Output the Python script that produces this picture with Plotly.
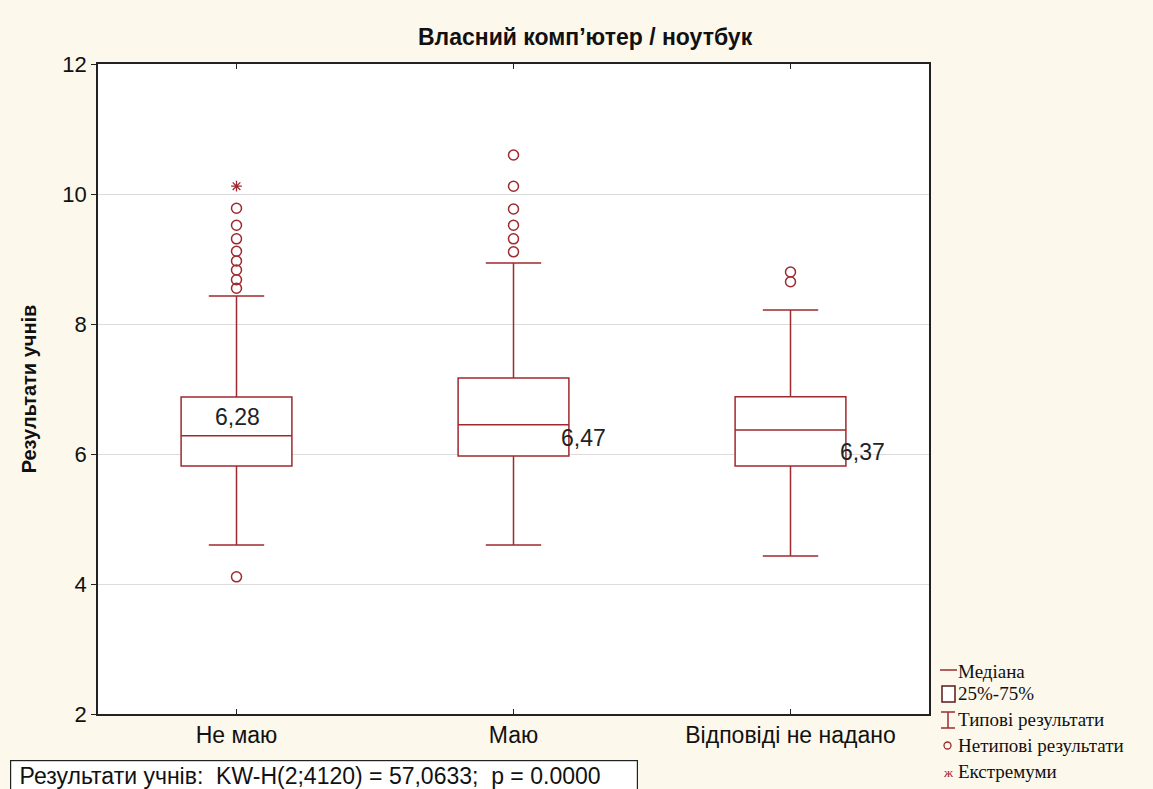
import plotly.graph_objects as go

categories = ["Не маю", "Маю", "Відповіді не надано"]
q1 = [5.815, 5.97, 5.815]
medians = [6.28, 6.45, 6.37]
q3 = [6.877, 7.17, 6.88]
lower_whisker = [4.6, 4.6, 4.43]
upper_whisker = [8.43, 8.94, 8.215]
median_labels = ["6,28", "6,47", "6,37"]

outliers = {
    "Не маю": [4.11, 9.78, 9.52, 9.31, 9.12, 8.97, 8.83, 8.68, 8.55],
    "Маю": [10.6, 10.12, 9.77, 9.52, 9.31, 9.11],
    "Відповіді не надано": [8.8, 8.65],
}
extremes = {"Не маю": [10.12]}

legend_labels = ["Медіана", "25%-75%", "Типові результати", "Нетипові результати", "Екстремуми"]
title_text = "Власний комп’ютер / ноутбук"
y_title = "Результати учнів"
stat_text = "&nbsp;Результати учнів:&nbsp; KW-H(2;4120) = 57,0633;&nbsp; p = 0.0000"

RED = "#9e2a2f"
BG = "#fdf8ec"
W, H = 1153, 789
L, R, T, B = 98, 929, 64, 714
SANS = "Liberation Sans, Arial"


def px(x):
    return (x - L) / (R - L)


def py(y):
    return (B - y) / (B - T)


fig = go.Figure()

for i, c in enumerate(categories):
    fig.add_trace(go.Box(
        x=[c], q1=[q1[i]], median=[medians[i]], q3=[q3[i]],
        lowerfence=[lower_whisker[i]], upperfence=[upper_whisker[i]],
        width=0.4, whiskerwidth=0.5,
        fillcolor="white", line=dict(color=RED, width=1.5),
        boxpoints=False, showlegend=False, hoverinfo="skip",
    ))
    pts = outliers.get(c, [])
    if pts:
        fig.add_trace(go.Scatter(
            x=[c] * len(pts), y=pts, mode="markers",
            marker=dict(symbol="circle-open", size=10, color=RED, line=dict(width=1.5, color=RED)),
            showlegend=False, hoverinfo="skip",
        ))
    ex = extremes.get(c, [])
    if ex:
        fig.add_trace(go.Scatter(
            x=[c] * len(ex), y=ex, mode="markers",
            marker=dict(symbol="asterisk-open", size=9, color=RED, line=dict(width=1.3, color=RED)),
            showlegend=False, hoverinfo="skip",
        ))

label_shift = [(1, 19), (70, -13), (72, -22)]
for i, c in enumerate(categories):
    fig.add_annotation(
        x=c, y=medians[i], text=median_labels[i], showarrow=False,
        xshift=label_shift[i][0], yshift=label_shift[i][1],
        font=dict(family=SANS, size=23, color="#222"),
    )

# title
fig.add_annotation(
    xref="paper", yref="paper", x=px(585), y=py(37), text="<b>" + title_text + "</b>",
    showarrow=False, font=dict(family=SANS, size=23, color="#111"),
    xanchor="center", yanchor="middle",
)

# stat box
fig.add_annotation(
    xref="paper", yref="paper", x=px(10), y=py(760), text=stat_text,
    showarrow=False, xanchor="left", yanchor="top",
    font=dict(family=SANS, size=23, color="#111"),
    bordercolor="#222", borderwidth=1.2, borderpad=2, bgcolor="white",
    width=622, align="left",
)

# legend (drawn manually)
LF = dict(family="Liberation Serif, Times New Roman", size=19, color="#111")
leg_y = [671, 693, 719, 745, 771]
for lbl, yy in zip(legend_labels, leg_y):
    fig.add_annotation(xref="paper", yref="paper", x=px(956), y=py(yy), text=lbl,
                       showarrow=False, xanchor="left", yanchor="middle", font=LF)
shapes = []
shapes.append(dict(type="line", xref="paper", yref="paper", x0=px(940), x1=px(957), y0=py(670), y1=py(670),
                   line=dict(color=RED, width=1.5)))
shapes.append(dict(type="rect", xref="paper", yref="paper", x0=px(942), x1=px(955), y0=py(686), y1=py(702),
                   line=dict(color="#5a1a1a", width=1.5), fillcolor="white"))
shapes.append(dict(type="line", xref="paper", yref="paper", x0=px(941), x1=px(955), y0=py(712), y1=py(712),
                   line=dict(color=RED, width=1.5)))
shapes.append(dict(type="line", xref="paper", yref="paper", x0=px(948), x1=px(948), y0=py(712), y1=py(728),
                   line=dict(color=RED, width=1.5)))
shapes.append(dict(type="line", xref="paper", yref="paper", x0=px(941), x1=px(955), y0=py(728), y1=py(728),
                   line=dict(color=RED, width=1.5)))
shapes.append(dict(type="circle", xref="paper", yref="paper", x0=px(944), x1=px(951), y0=py(742), y1=py(749),
                   line=dict(color=RED, width=1.3)))
fig.add_annotation(xref="paper", yref="paper", x=px(948), y=py(772), text="ж", showarrow=False,
                   xanchor="center", yanchor="middle",
                   font=dict(family="Liberation Serif", size=13, color=RED))

fig.update_layout(
    width=W, height=H,
    margin=dict(l=L, r=W - R, t=T, b=H - B, pad=0),
    paper_bgcolor=BG, plot_bgcolor="white",
    shapes=shapes,
    showlegend=False,
    xaxis=dict(
        type="category", range=[-0.5, 2.5],
        showline=True, linecolor="#222", linewidth=1.5, mirror="ticks",
        ticks="inside", ticklen=5, tickcolor="#222",
        showgrid=False, zeroline=False,
        tickfont=dict(family=SANS, size=23, color="#111"),
    ),
    yaxis=dict(
        range=[2, 12], tickvals=[2, 4, 6, 8, 10, 12],
        showline=True, linecolor="#222", linewidth=1.5, mirror=True,
        ticks="outside", ticklen=5, tickcolor="#222",
        showgrid=True, gridcolor="#dcdcdc", gridwidth=1, zeroline=False,
        tickfont=dict(family=SANS, size=22, color="#111"),
        title=dict(text="<b>" + y_title + "</b>", standoff=20,
                   font=dict(family=SANS, size=20, color="#111")),
    ),
)

fig.write_html("out.html", config={"displayModeBar": False},
               post_script="document.body.style.margin='0';document.body.style.overflow='hidden';")
